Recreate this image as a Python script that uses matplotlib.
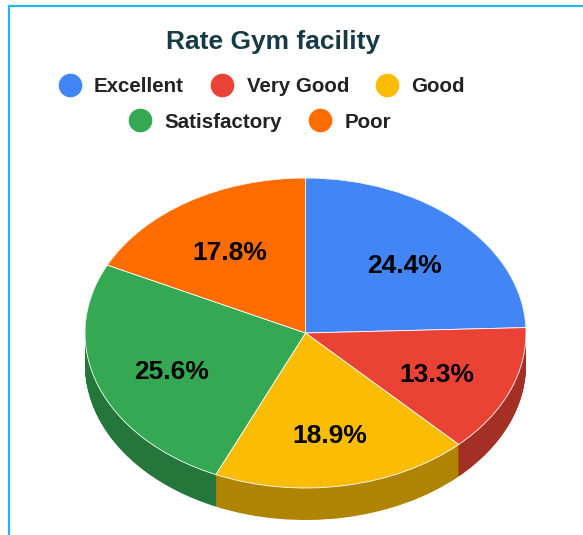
import matplotlib
matplotlib.use("Agg")
import matplotlib.pyplot as plt
from matplotlib.lines import Line2D
from matplotlib.colors import to_rgb

# Survey responses
categories = ["Excellent", "Very Good", "Good", "Satisfactory", "Poor"]
counts = [22, 12, 17, 23, 16]
colors = ["#4285F4", "#EA4335", "#FBBC04", "#34A853", "#FF6D01"]
title = "Rate Gym facility"

W, H, DPI = 583, 535, 100
fig = plt.figure(figsize=(W / DPI, H / DPI), dpi=DPI)
fig.patch.set_facecolor("white")

# Pie axes spans the whole figure; limits are chosen so the unit circle
# becomes a flattened ellipse (tilted disc)
cx_px, cy_px = 305.5, 333.0       # ellipse centre, pixels from top-left
rx_px, ry_px = 220.5, 155.0       # ellipse radii in pixels
depth_px = 32.0                   # thickness of the disc
ax = fig.add_axes([0, 0, 1, 1])

depth = depth_px / ry_px
side_colors = [tuple(c * 0.70 for c in to_rgb(col)) for col in colors]

# Side wall: stacked darker copies of the pie from the bottom upward
n_layers = 48
for k in range(n_layers + 1):
    off = -depth * (1 - k / n_layers)
    ax.pie(counts, colors=side_colors, startangle=90, counterclock=False,
           center=(0, off), radius=1.0,
           wedgeprops=dict(linewidth=0, antialiased=True))

# Top face with percentage labels
wedges, _, autotexts = ax.pie(
    counts, colors=colors, startangle=90, counterclock=False,
    center=(0, 0), radius=1.0, autopct="%.1f%%", pctdistance=0.645,
    wedgeprops=dict(linewidth=0.6, edgecolor="white"),
    textprops=dict(fontsize=19, fontweight="bold", color="black",
                   family="Liberation Sans"))
for t in autotexts:
    x, y = t.get_position()
    t.set_position((x, y - 5 / ry_px))

ax.set_aspect("auto")
ax.set_xlim(-cx_px / rx_px, (W - cx_px) / rx_px)
ax.set_ylim(-(H - cy_px) / ry_px, cy_px / ry_px)
ax.axis("off")

# Title
fig.text(273 / W, 1 - 42 / H, title, ha="center", va="center",
         fontsize=19, fontweight="bold", color="#173B45",
         family="Liberation Sans")

# Legend in two centred rows
def handle(c):
    return Line2D([], [], marker="o", linestyle="", markersize=16,
                  markerfacecolor=c, markeredgecolor=c)

legend_kw = dict(frameon=False, loc="center", handlelength=1.05,
                 handletextpad=0.65, columnspacing=1.35,
                 prop=dict(family="Liberation Sans", weight="bold", size=14.8),
                 labelcolor="#222222", borderpad=0, borderaxespad=0)
leg1 = fig.legend([handle(c) for c in colors[:3]], categories[:3], ncol=3,
                  bbox_to_anchor=(262 / W, 1 - 87 / H), **legend_kw)
leg2 = fig.legend([handle(c) for c in colors[3:]], categories[3:], ncol=2,
                  bbox_to_anchor=(260 / W, 1 - 122 / H), **legend_kw)

# Light-blue frame along the top and left edges
fig.add_artist(Line2D([8.5 / W, 8.5 / W, 1.0], [0.0, 1 - 6 / H, 1 - 6 / H],
                      transform=fig.transFigure, color="#1EB9F2",
                      linewidth=1.6, solid_joinstyle="miter"))

fig.savefig("out.png", dpi=DPI, facecolor="white")
